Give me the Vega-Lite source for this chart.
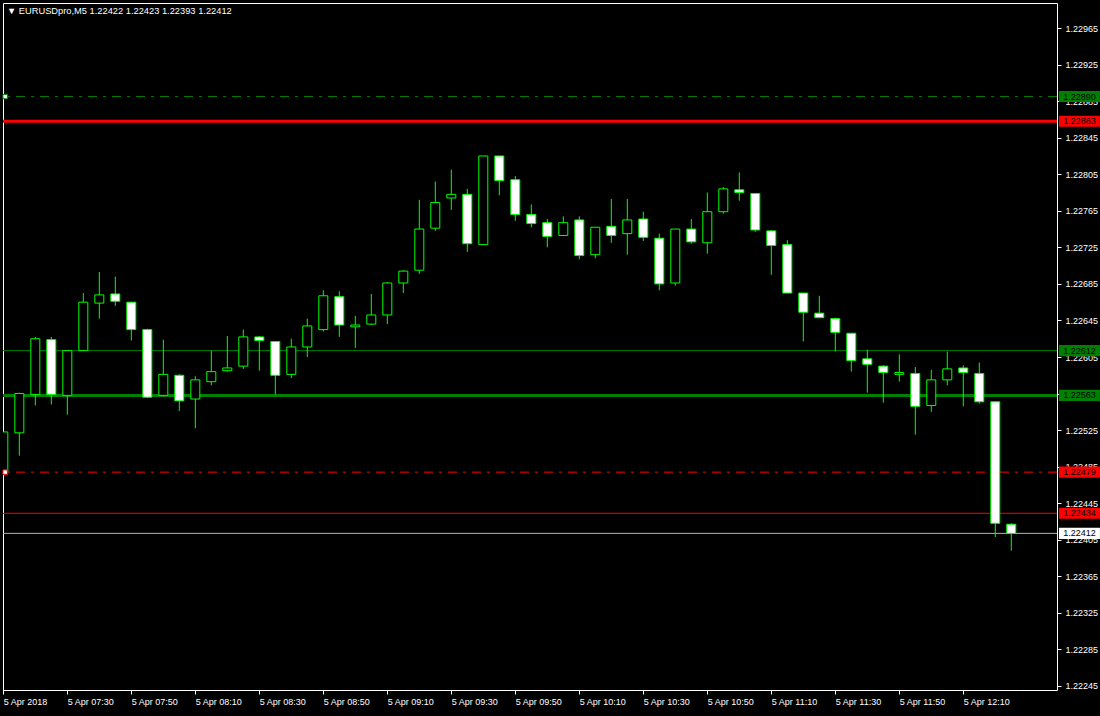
{
  "$schema": "https://vega.github.io/schema/vega-lite/v6.json",
  "width": 1054,
  "height": 687,
  "autosize": {"type": "none"},
  "padding": {"left": 3, "top": 3, "right": 43, "bottom": 26},
  "background": "#000000",
  "config": {
    "view": {"stroke": "#ffffff", "strokeWidth": 1},
    "axis": {
      "grid": false, "domain": false, "labelOverlap": false, "labelFlush": false, "labelBound": false,
      "tickColor": "#ffffff", "tickSize": 4, "labelColor": "#ffffff", "labelFont": "Liberation Sans", "labelFontSize": 9
    },
    "scale": {"continuousPadding": 0}
  },
  "title": {
    "text": "▼  EURUSDpro,M5  1.22422 1.22423 1.22393 1.22412",
    "anchor": "start",
    "frame": "group",
    "offset": -13,
    "dx": 4,
    "color": "#ffffff",
    "font": "Liberation Sans",
    "fontSize": 9.3,
    "fontWeight": "normal"
  },
  "datasets": {
    "candles": [
      {"time": "2018-04-05T07:10:00Z", "open": 1.22479, "high": 1.22523, "low": 1.22478, "close": 1.22523},
      {"time": "2018-04-05T07:15:00Z", "open": 1.22522, "high": 1.22566, "low": 1.22497, "close": 1.22565},
      {"time": "2018-04-05T07:20:00Z", "open": 1.22564, "high": 1.22627, "low": 1.22552, "close": 1.22625},
      {"time": "2018-04-05T07:25:00Z", "open": 1.22624, "high": 1.22627, "low": 1.22553, "close": 1.22564},
      {"time": "2018-04-05T07:30:00Z", "open": 1.22563, "high": 1.22612, "low": 1.22542, "close": 1.22612},
      {"time": "2018-04-05T07:35:00Z", "open": 1.22612, "high": 1.22675, "low": 1.22612, "close": 1.22665},
      {"time": "2018-04-05T07:40:00Z", "open": 1.22664, "high": 1.22698, "low": 1.22647, "close": 1.22673},
      {"time": "2018-04-05T07:45:00Z", "open": 1.22674, "high": 1.22693, "low": 1.22661, "close": 1.22666},
      {"time": "2018-04-05T07:50:00Z", "open": 1.22665, "high": 1.22665, "low": 1.22623, "close": 1.22635},
      {"time": "2018-04-05T07:55:00Z", "open": 1.22635, "high": 1.22636, "low": 1.2256, "close": 1.22561},
      {"time": "2018-04-05T08:00:00Z", "open": 1.22563, "high": 1.22624, "low": 1.22562, "close": 1.22586},
      {"time": "2018-04-05T08:05:00Z", "open": 1.22585, "high": 1.22586, "low": 1.22546, "close": 1.22557},
      {"time": "2018-04-05T08:10:00Z", "open": 1.22559, "high": 1.22584, "low": 1.22527, "close": 1.2258},
      {"time": "2018-04-05T08:15:00Z", "open": 1.22578, "high": 1.22612, "low": 1.22574, "close": 1.22589},
      {"time": "2018-04-05T08:20:00Z", "open": 1.2259, "high": 1.22628, "low": 1.22589, "close": 1.22593},
      {"time": "2018-04-05T08:25:00Z", "open": 1.22595, "high": 1.22635, "low": 1.22592, "close": 1.22627},
      {"time": "2018-04-05T08:30:00Z", "open": 1.22627, "high": 1.22628, "low": 1.2259, "close": 1.22623},
      {"time": "2018-04-05T08:35:00Z", "open": 1.22622, "high": 1.22622, "low": 1.22564, "close": 1.22585},
      {"time": "2018-04-05T08:40:00Z", "open": 1.22586, "high": 1.22625, "low": 1.22582, "close": 1.22616},
      {"time": "2018-04-05T08:45:00Z", "open": 1.22616, "high": 1.22647, "low": 1.22605, "close": 1.22639},
      {"time": "2018-04-05T08:50:00Z", "open": 1.22635, "high": 1.22678, "low": 1.22633, "close": 1.22672},
      {"time": "2018-04-05T08:55:00Z", "open": 1.22671, "high": 1.22677, "low": 1.22627, "close": 1.2264},
      {"time": "2018-04-05T09:00:00Z", "open": 1.22638, "high": 1.2265, "low": 1.22615, "close": 1.2264},
      {"time": "2018-04-05T09:05:00Z", "open": 1.22641, "high": 1.22674, "low": 1.2264, "close": 1.22651},
      {"time": "2018-04-05T09:10:00Z", "open": 1.22651, "high": 1.22687, "low": 1.22641, "close": 1.22686},
      {"time": "2018-04-05T09:15:00Z", "open": 1.22686, "high": 1.227, "low": 1.22675, "close": 1.22699},
      {"time": "2018-04-05T09:20:00Z", "open": 1.227, "high": 1.22777, "low": 1.22696, "close": 1.22745},
      {"time": "2018-04-05T09:25:00Z", "open": 1.22746, "high": 1.22797, "low": 1.22743, "close": 1.22774},
      {"time": "2018-04-05T09:30:00Z", "open": 1.22779, "high": 1.2281, "low": 1.22766, "close": 1.22783},
      {"time": "2018-04-05T09:35:00Z", "open": 1.22783, "high": 1.22789, "low": 1.2272, "close": 1.22729},
      {"time": "2018-04-05T09:40:00Z", "open": 1.22728, "high": 1.22825, "low": 1.22728, "close": 1.22825},
      {"time": "2018-04-05T09:45:00Z", "open": 1.22825, "high": 1.22825, "low": 1.22782, "close": 1.22798},
      {"time": "2018-04-05T09:50:00Z", "open": 1.22799, "high": 1.22803, "low": 1.22754, "close": 1.22761},
      {"time": "2018-04-05T09:55:00Z", "open": 1.22761, "high": 1.22772, "low": 1.22747, "close": 1.22751},
      {"time": "2018-04-05T10:00:00Z", "open": 1.22752, "high": 1.22756, "low": 1.22725, "close": 1.22737},
      {"time": "2018-04-05T10:05:00Z", "open": 1.22738, "high": 1.22759, "low": 1.22738, "close": 1.22752},
      {"time": "2018-04-05T10:10:00Z", "open": 1.22755, "high": 1.22759, "low": 1.22712, "close": 1.22716},
      {"time": "2018-04-05T10:15:00Z", "open": 1.22717, "high": 1.22747, "low": 1.22713, "close": 1.22747},
      {"time": "2018-04-05T10:20:00Z", "open": 1.22748, "high": 1.22778, "low": 1.2273, "close": 1.22738},
      {"time": "2018-04-05T10:25:00Z", "open": 1.2274, "high": 1.22778, "low": 1.22717, "close": 1.22755},
      {"time": "2018-04-05T10:30:00Z", "open": 1.22756, "high": 1.22764, "low": 1.22732, "close": 1.22736},
      {"time": "2018-04-05T10:35:00Z", "open": 1.22735, "high": 1.2274, "low": 1.22678, "close": 1.22685},
      {"time": "2018-04-05T10:40:00Z", "open": 1.22686, "high": 1.22745, "low": 1.22683, "close": 1.22745},
      {"time": "2018-04-05T10:45:00Z", "open": 1.22745, "high": 1.22756, "low": 1.22729, "close": 1.22731},
      {"time": "2018-04-05T10:50:00Z", "open": 1.2273, "high": 1.22785, "low": 1.22718, "close": 1.22764},
      {"time": "2018-04-05T10:55:00Z", "open": 1.22764, "high": 1.22791, "low": 1.22762, "close": 1.22789},
      {"time": "2018-04-05T11:00:00Z", "open": 1.22788, "high": 1.22807, "low": 1.22776, "close": 1.22785},
      {"time": "2018-04-05T11:05:00Z", "open": 1.22784, "high": 1.22784, "low": 1.22742, "close": 1.22744},
      {"time": "2018-04-05T11:10:00Z", "open": 1.22743, "high": 1.22744, "low": 1.22695, "close": 1.22727},
      {"time": "2018-04-05T11:15:00Z", "open": 1.22728, "high": 1.22733, "low": 1.22675, "close": 1.22675},
      {"time": "2018-04-05T11:20:00Z", "open": 1.22675, "high": 1.22675, "low": 1.22622, "close": 1.22654},
      {"time": "2018-04-05T11:25:00Z", "open": 1.22653, "high": 1.22672, "low": 1.22648, "close": 1.22648},
      {"time": "2018-04-05T11:30:00Z", "open": 1.22647, "high": 1.22648, "low": 1.22611, "close": 1.22632},
      {"time": "2018-04-05T11:35:00Z", "open": 1.22631, "high": 1.22631, "low": 1.22589, "close": 1.22601},
      {"time": "2018-04-05T11:40:00Z", "open": 1.22603, "high": 1.22613, "low": 1.22566, "close": 1.22597},
      {"time": "2018-04-05T11:45:00Z", "open": 1.22595, "high": 1.22596, "low": 1.22555, "close": 1.22588},
      {"time": "2018-04-05T11:50:00Z", "open": 1.22586, "high": 1.22608, "low": 1.22578, "close": 1.22588},
      {"time": "2018-04-05T11:55:00Z", "open": 1.22587, "high": 1.22594, "low": 1.2252, "close": 1.22551},
      {"time": "2018-04-05T12:00:00Z", "open": 1.22552, "high": 1.22591, "low": 1.22545, "close": 1.2258},
      {"time": "2018-04-05T12:05:00Z", "open": 1.2258, "high": 1.22611, "low": 1.22574, "close": 1.22592},
      {"time": "2018-04-05T12:10:00Z", "open": 1.22593, "high": 1.22596, "low": 1.22551, "close": 1.22588},
      {"time": "2018-04-05T12:15:00Z", "open": 1.22587, "high": 1.22599, "low": 1.22554, "close": 1.22556},
      {"time": "2018-04-05T12:20:00Z", "open": 1.22556, "high": 1.22556, "low": 1.22408, "close": 1.22423},
      {"time": "2018-04-05T12:25:00Z", "open": 1.22422, "high": 1.22423, "low": 1.22393, "close": 1.22412}
    ],
    "tags": [
      {"price": 1.2289, "kind": "buy"},
      {"price": 1.22863, "kind": "sell"},
      {"price": 1.22612, "kind": "buy"},
      {"price": 1.22563, "kind": "buy"},
      {"price": 1.22479, "kind": "sell"},
      {"price": 1.22434, "kind": "sell"},
      {"price": 1.22412, "kind": "bid"}
    ],
    "one": [{"n": 1}]
  },
  "layer": [
    {
      "data": {"name": "candles"},
      "mark": {"type": "rule", "color": "#00ff00", "strokeWidth": 1, "clip": true, "opacity": 0},
      "encoding": {
        "x": {
          "field": "time", "type": "temporal",
          "scale": {"type": "utc", "padding": 0, "domain": [{"year": 2018, "month": 4, "date": 5, "hours": 7, "minutes": 9, "seconds": 54, "utc": true}, {"year": 2018, "month": 4, "date": 5, "hours": 12, "minutes": 39, "seconds": 17, "utc": true}]},
          "axis": {
            "title": null,
            "orient": "bottom",
            "tickCount": 40,
            "values": [
              {"year": 2018, "month": 4, "date": 5, "hours": 7, "minutes": 10, "utc": true},
              {"year": 2018, "month": 4, "date": 5, "hours": 7, "minutes": 30, "utc": true},
              {"year": 2018, "month": 4, "date": 5, "hours": 7, "minutes": 50, "utc": true},
              {"year": 2018, "month": 4, "date": 5, "hours": 8, "minutes": 10, "utc": true},
              {"year": 2018, "month": 4, "date": 5, "hours": 8, "minutes": 30, "utc": true},
              {"year": 2018, "month": 4, "date": 5, "hours": 8, "minutes": 50, "utc": true},
              {"year": 2018, "month": 4, "date": 5, "hours": 9, "minutes": 10, "utc": true},
              {"year": 2018, "month": 4, "date": 5, "hours": 9, "minutes": 30, "utc": true},
              {"year": 2018, "month": 4, "date": 5, "hours": 9, "minutes": 50, "utc": true},
              {"year": 2018, "month": 4, "date": 5, "hours": 10, "minutes": 10, "utc": true},
              {"year": 2018, "month": 4, "date": 5, "hours": 10, "minutes": 30, "utc": true},
              {"year": 2018, "month": 4, "date": 5, "hours": 10, "minutes": 50, "utc": true},
              {"year": 2018, "month": 4, "date": 5, "hours": 11, "minutes": 10, "utc": true},
              {"year": 2018, "month": 4, "date": 5, "hours": 11, "minutes": 30, "utc": true},
              {"year": 2018, "month": 4, "date": 5, "hours": 11, "minutes": 50, "utc": true},
              {"year": 2018, "month": 4, "date": 5, "hours": 12, "minutes": 10, "utc": true}
            ],
            "labelExpr": "utcFormat(datum.value, '%H:%M') == '07:10' ? '5 Apr 2018' : '5 Apr ' + utcFormat(datum.value, '%H:%M')",
            "labelAlign": "left",
            "labelBaseline": "top",
            "labelPadding": 3,
            "labelOverlap": false
          }
        },
        "y": {
          "field": "low", "type": "quantitative",
          "scale": {"domain": [1.222406, 1.229924], "nice": false, "zero": false, "padding": 0},
          "axis": {
            "title": null,
            "orient": "right",
            "tickCount": 40,
            "values": [1.22965, 1.22925, 1.22885, 1.22845, 1.22805, 1.22765, 1.22725, 1.22685, 1.22645, 1.22605, 1.22565, 1.22525, 1.22485, 1.22445, 1.22405, 1.22365, 1.22325, 1.22285, 1.22245],
            "format": ".5f",
            "labelAlign": "left",
            "labelBaseline": "middle",
            "labelPadding": 4,
            "labelOverlap": false
          }
        },
        "y2": {"field": "high"}
      }
    },
    {
      "data": {"name": "one"},
      "mark": {"type": "rule", "color": "#008000", "strokeWidth": 1, "strokeDash": [9, 6, 3, 6]},
      "encoding": {"y": {"datum": 1.2289, "type": "quantitative"}}
    },
    {
      "data": {"name": "one"},
      "mark": {"type": "rule", "color": "#ff0000", "strokeWidth": 3},
      "encoding": {"y": {"datum": 1.22863, "type": "quantitative"}}
    },
    {
      "data": {"name": "one"},
      "mark": {"type": "rule", "color": "#008000", "strokeWidth": 1},
      "encoding": {"y": {"datum": 1.22612, "type": "quantitative"}}
    },
    {
      "data": {"name": "one"},
      "mark": {"type": "rule", "color": "#008000", "strokeWidth": 3},
      "encoding": {"y": {"datum": 1.22563, "type": "quantitative"}}
    },
    {
      "data": {"name": "one"},
      "mark": {"type": "rule", "color": "#ff0000", "strokeWidth": 1, "strokeDash": [9, 6, 3, 6]},
      "encoding": {"y": {"datum": 1.22479, "type": "quantitative"}}
    },
    {
      "data": {"name": "one"},
      "mark": {"type": "rule", "color": "#ff0000", "strokeWidth": 1},
      "encoding": {"y": {"datum": 1.22434, "type": "quantitative"}}
    },
    {
      "data": {"name": "one"},
      "mark": {"type": "rule", "color": "#b4b4b4", "strokeWidth": 1},
      "encoding": {"y": {"datum": 1.22412, "type": "quantitative"}}
    },
    {
      "data": {"name": "candles"},
      "mark": {"type": "rule", "color": "#00ff00", "strokeWidth": 1, "clip": true},
      "encoding": {
        "x": {"field": "time", "type": "temporal"},
        "y": {"field": "low", "type": "quantitative"},
        "y2": {"field": "high"}
      }
    },
    {
      "data": {"name": "candles"},
      "mark": {"type": "bar", "size": 9, "stroke": "#00ff00", "strokeWidth": 1, "clip": true},
      "encoding": {
        "x": {"field": "time", "type": "temporal"},
        "y": {"field": "open", "type": "quantitative"},
        "y2": {"field": "close"},
        "fill": {"condition": {"test": "datum.close < datum.open", "value": "#ffffff"}, "value": "#000000"}
      }
    },
    {
      "data": {"name": "one"},
      "mark": {"type": "point", "shape": "square", "size": 20, "filled": false, "fill": "#ffffff", "stroke": "#008000", "strokeWidth": 1, "opacity": 1},
      "encoding": {
        "x": {"datum": {"year": 2018, "month": 4, "date": 5, "hours": 7, "minutes": 10, "seconds": 35, "utc": true}, "type": "temporal"},
        "y": {"datum": 1.2289, "type": "quantitative"}
      }
    },
    {
      "data": {"name": "one"},
      "mark": {"type": "point", "shape": "square", "size": 20, "filled": false, "fill": "#ffffff", "stroke": "#ff0000", "strokeWidth": 1, "opacity": 1},
      "encoding": {
        "x": {"datum": {"year": 2018, "month": 4, "date": 5, "hours": 7, "minutes": 10, "seconds": 35, "utc": true}, "type": "temporal"},
        "y": {"datum": 1.22479, "type": "quantitative"}
      }
    },
    {
      "data": {"name": "tags"},
      "mark": {"type": "point", "shape": "M-1,-0.27H1V0.27H-1Z", "size": 1681, "filled": true, "opacity": 1, "strokeWidth": 0},
      "encoding": {
        "x": {"datum": {"year": 2018, "month": 4, "date": 5, "hours": 12, "minutes": 46, "seconds": 18, "utc": true}, "type": "temporal"},
        "y": {"field": "price", "type": "quantitative"},
        "color": {"field": "kind", "type": "nominal", "scale": {"domain": ["buy", "sell", "bid"], "range": ["#008000", "#ff0000", "#ffffff"]}, "legend": null}
      }
    },
    {
      "data": {"name": "tags"},
      "mark": {"type": "text", "color": "#000000", "font": "Liberation Sans", "fontSize": 9, "align": "center", "baseline": "middle"},
      "encoding": {
        "x": {"datum": {"year": 2018, "month": 4, "date": 5, "hours": 12, "minutes": 46, "seconds": 18, "utc": true}, "type": "temporal"},
        "y": {"field": "price", "type": "quantitative"},
        "text": {"field": "price", "type": "quantitative", "format": ".5f"}
      }
    }
  ]
}
